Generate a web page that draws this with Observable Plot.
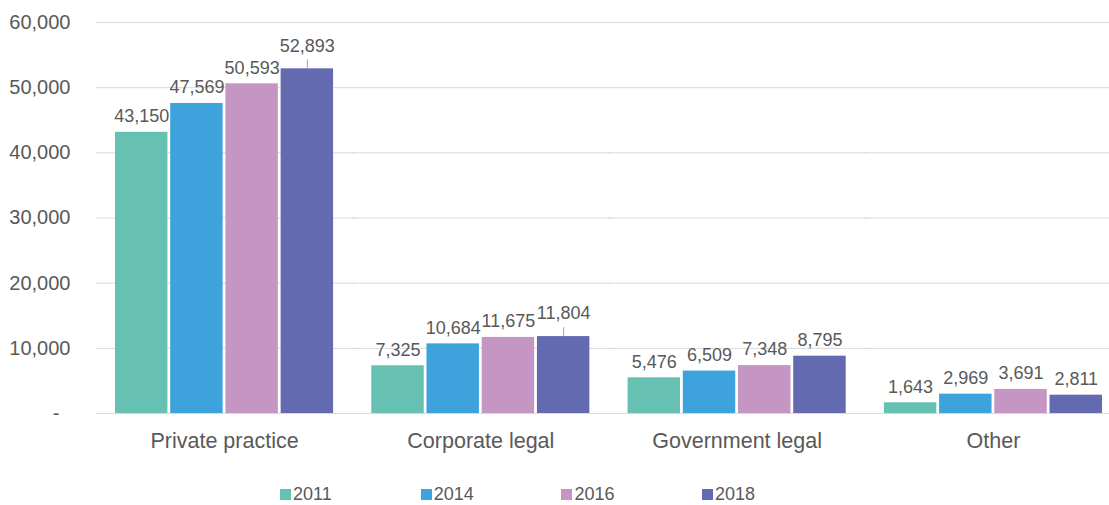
<!DOCTYPE html>
<html>
<head>
<meta charset="utf-8">
<script src="https://cdn.jsdelivr.net/npm/d3@7"></script>
<script src="https://cdn.jsdelivr.net/npm/@observablehq/plot@0.6"></script>
<style>
  body { margin: 0; background: #fff; font-family: "Liberation Sans", Arial, sans-serif; }
  #chart svg { display: block; }
  #legend { display: flex; margin-top: 14px; padding-left: 280px; color: #595959; font-size: 18px; line-height: 20px; }
  #legend .item { display: flex; align-items: center; width: 140.7px; flex: none; }
  #legend .sw { width: 11px; height: 11px; margin-right: 2px; flex: none; }
</style>
</head>
<body>
<div id="chart"></div>
<div id="legend"></div>
<script>
const categories = ["Private practice", "Corporate legal", "Government legal", "Other"];
const years = ["2011", "2014", "2016", "2018"];
const colors = ["#66C1B2", "#3EA3DD", "#C595C4", "#636AB0"];
const v2011 = [43150, 7325, 5476, 1643];
const v2014 = [47569, 10684, 6509, 2969];
const v2016 = [50593, 11675, 7348, 3691];
const v2018 = [52893, 11804, 8795, 2811];
const yTicks = [0, 10000, 20000, 30000, 40000, 50000, 60000];

const series = [v2011, v2014, v2016, v2018];
const data = [];
categories.forEach((c, i) => years.forEach((y, j) => data.push({category: c, year: y, value: series[j][i]})));
// labels lifted with a leader line
const lifted = new Set(["Private practice|2018", "Corporate legal|2018"]);
const normal = data.filter(d => !lifted.has(d.category + "|" + d.year));
const raised = data.filter(d => lifted.has(d.category + "|" + d.year));
const fmt = d3.format(",");

const chart = Plot.plot({
  width: 1109,
  height: 470,
  marginLeft: 96,
  marginRight: 0,
  marginTop: 22,
  marginBottom: 57,
  style: {fontFamily: "'Liberation Sans', Arial, sans-serif", color: "#595959", background: "#fff"},
  fx: {domain: categories, paddingInner: 0.149, paddingOuter: 0.0507, align: 0.73, round: false, label: null},
  x: {domain: years, paddingInner: 0.05, paddingOuter: 0, round: false, axis: null},
  y: {domain: [0, 60000], ticks: yTicks, label: null},
  color: {domain: years, range: colors},
  marks: [
    Plot.ruleY(yTicks, {stroke: "#d9d9d9", strokeWidth: 1, insetLeft: -19, insetRight: -22}),
    Plot.axisY(yTicks, {tickSize: 0, tickPadding: 0, dx: -45, fontSize: 20, fill: "#595959", tickFormat: d => d === 0 ? "-\u00A0\u00A0" : fmt(d), label: null}),
    Plot.axisFx({anchor: "bottom", tickSize: 0, tickPadding: 19, fontSize: 21.5, fill: "#595959", label: null}),
    Plot.barY(data, {fx: "category", x: "year", y: "value", fill: "year"}),
    Plot.text(normal, {fx: "category", x: "year", y: "value", text: d => fmt(d.value), dy: -16, fontSize: 18, fill: "#595959"}),
    Plot.text(raised, {fx: "category", x: "year", y: "value", text: d => fmt(d.value), dy: -23, fontSize: 18, fill: "#595959"}),
    Plot.ruleX(raised, {fx: "category", x: "year", y1: "value", y2: "value", insetBottom: 9, stroke: "#a6a6a6", strokeWidth: 1})
  ]
});
document.getElementById("chart").appendChild(chart);

const legend = document.getElementById("legend");
years.forEach((y, i) => {
  const it = document.createElement("div");
  it.className = "item";
  it.innerHTML = `<span class="sw" style="background:${colors[i]}"></span><span>${y}</span>`;
  legend.appendChild(it);
});
</script>
</body>
</html>
